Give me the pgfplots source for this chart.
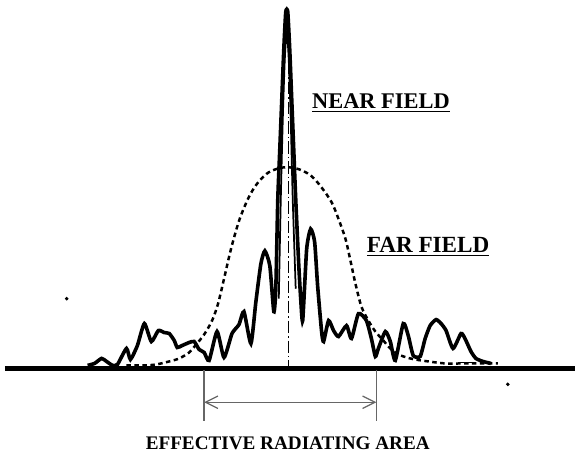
\documentclass[border=0pt]{standalone}
\usepackage{fontspec}
\setmainfont{Liberation Serif}
\usepackage{pgfplots}
\pgfplotsset{compat=1.18}
\usetikzlibrary{arrows.meta}

\begin{document}
\begin{tikzpicture}
\begin{axis}[
    hide axis,
    scale only axis,
    width=230.8pt, height=183.2pt,
    xmin=0, xmax=577, ymin=0, ymax=458,
    y dir=reverse,
    clip=false,
  ]
  % page frame
  \addplot[draw=none] coordinates {(0,0) (577,458)};

  % ground line
  \addplot[line width=2pt] coordinates {(5,370) (577,370)};

  % far field (dashed)
  \addplot[line width=1pt, dash pattern=on 1.8pt off 1.4pt, smooth, tension=0.5] coordinates {
    (127,367) (145,367) (157,366) (170,363) (180,360) (190,354) (197,346)
    (205,336) (213,322) (219,305) (225,280) (232,250) (240,222) (248,202)
    (255,189) (262,180) (270,173) (280,169) (288,168) (297,169) (305,172)
    (313,177) (322,187) (333,203) (340,220) (347,240) (352,262) (357,285)
    (363,308) (370,322) (377,333) (385,342) (392,350) (400,356) (412,360)
    (423,362) (447,365) (467,365) (500,365)
  };

  % near field (solid)
  \addplot[line width=1.45pt, smooth, tension=0.35] coordinates {
    (88,367) (95,365) (102,360) (107,363) (113,367) (118,366) (127,350)
    (131,361) (138,347) (145,325) (152,343) (159,332) (165,334) (170,335)
    (175,342) (178,349) (183,347) (190,344) (195,343) (200,351) (205,354)
    (210,362) (218,333) (225,359) (233,335) (240,326) (245,313) (252,345)
    (257,303) (262,265) (266,252) (271,267) (275,313) (277,290) (279,200)
    (281,150) (283,100) (285,50) (287,12) (289,12) (291,50) (293,100)
    (295,150) (297,200) (300,265) (302,300) (304,322) (308,250) (312,230)
    (316,243) (319,287) (323,333) (325,343) (330,322) (335,332) (340,338)
    (348,327) (353,340) (360,315) (368,322) (373,340) (377,358) (380,350)
    (387,333) (392,343) (397,362) (405,325) (410,337) (415,357) (422,358)
    (427,340) (432,327) (438,321) (443,325) (448,332) (455,350) (463,335)
    (467,340) (473,353) (478,360) (485,363) (493,365)
  };
  % inner trace of the main lobe
  \addplot[line width=0.7pt, smooth, tension=0.4] coordinates {
    (280,300) (282,200) (284,120) (286,60) (288,32) (290,60) (292,120)
    (294,200) (297,290)
  };

  % axis of symmetry (dash dot)
  \addplot[line width=0.5pt, dash pattern=on 5pt off 1.2pt on 0.6pt off 1.2pt] coordinates {(290,42) (290,368)};

  % small residue near ground
  \addplot[line width=0.5pt] coordinates {(460,364) (477,364)};
  \addplot[only marks, mark=*, mark size=0.5pt] coordinates {(67,300) (510,386)};

  % effective radiating area
  \addplot[gray!80!black, line width=0.6pt] coordinates {(205,372) (205,423)};
  \addplot[gray!80!black, line width=0.6pt] coordinates {(378,372) (378,423)};
  \addplot[gray!80!black, line width=0.5pt, {Straight Barb[length=5pt,width=5pt]}-{Straight Barb[length=5pt,width=5pt]}] coordinates {(205,404) (378,404)};

  \node[anchor=west, inner sep=0pt, font=\bfseries\fontsize{9}{10}\selectfont] at (axis cs:313,104) {\underline{NEAR FIELD}};
  \node[anchor=west, inner sep=0pt, font=\bfseries\fontsize{9.3}{10}\selectfont] at (axis cs:368,248) {\underline{FAR FIELD}};
  \node[font=\bfseries\fontsize{7.7}{10}\selectfont] at (axis cs:289,445) {EFFECTIVE RADIATING AREA};
\end{axis}
\end{tikzpicture}
\end{document}
